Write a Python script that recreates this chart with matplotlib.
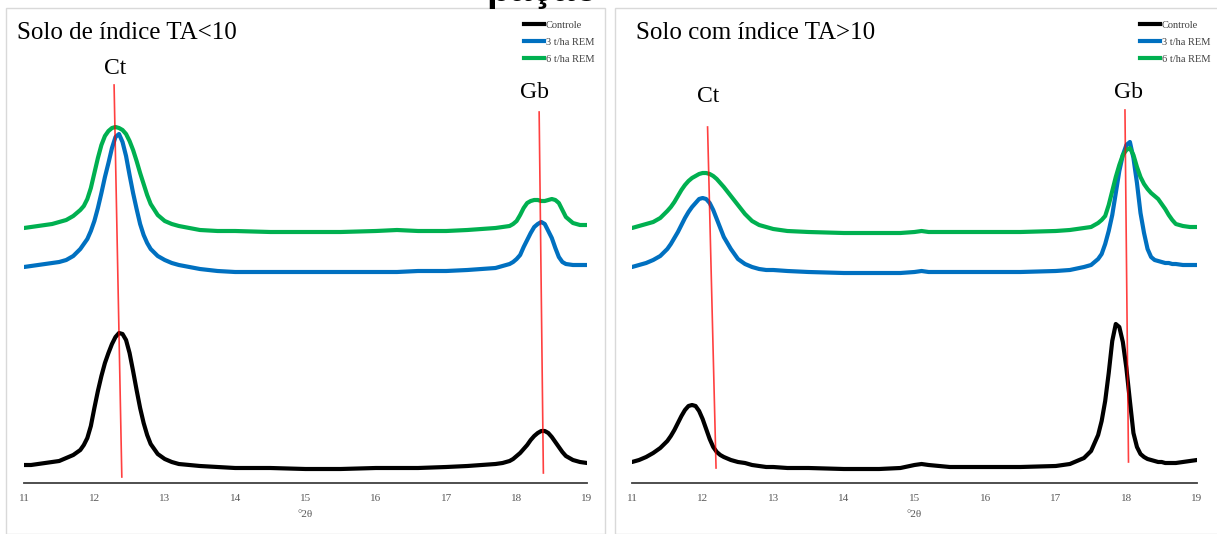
import matplotlib
matplotlib.use('Agg')
import matplotlib.pyplot as plt
from matplotlib.patches import Rectangle
from matplotlib.lines import Line2D

# ---- data (intensity in arbitrary units) ----
series_names = ['Controle', '3 t/ha REM', '6 t/ha REM']
series_colors = ['#000000', '#0070C0', '#00B050']

xL = [11.0, 11.1, 11.2, 11.3, 11.4, 11.5, 11.6, 11.7, 11.8, 11.85,
      11.9, 11.95, 12.0, 12.05, 12.1, 12.15, 12.2, 12.25, 12.3, 12.35,
      12.4, 12.45, 12.5, 12.55, 12.6, 12.65, 12.7, 12.75, 12.8, 12.9,
      13.0, 13.1, 13.2, 13.35, 13.5, 13.75, 14.0, 14.5, 15.0, 15.5,
      16.0, 16.3, 16.6, 17.0, 17.3, 17.5, 17.7, 17.8, 17.9, 17.95,
      18.0, 18.05, 18.1, 18.15, 18.2, 18.25, 18.3, 18.35, 18.4, 18.45,
      18.5, 18.55, 18.6, 18.65, 18.7, 18.8, 18.9, 19.0]
controle_L = [18, 18, 19, 20, 21, 22, 25, 28, 33, 38,
              45, 57, 75, 92, 107, 120, 130, 139, 146, 150,
              149, 143, 130, 112, 93, 75, 60, 48, 39, 29,
              24, 21, 19, 18, 17, 16, 15, 15, 14, 14,
              15, 15, 15, 16, 17, 18, 19, 20, 22, 24,
              27, 30, 34, 38, 43, 47, 50, 52, 52, 50,
              46, 41, 36, 31, 27, 23, 21, 20]
rem3_L = [216, 217, 218, 219, 220, 221, 223, 227, 234, 239,
          244, 252, 262, 275, 290, 306, 320, 335, 346, 349,
          341, 327, 308, 290, 274, 259, 248, 240, 234, 227,
          223, 220, 218, 216, 214, 212, 211, 211, 211, 211,
          211, 211, 212, 212, 213, 214, 215, 217, 219, 221,
          224, 228, 236, 243, 250, 256, 259, 261, 259, 252,
          245, 235, 226, 221, 219, 218, 218, 218]
rem6_L = [255, 256, 257, 258, 259, 261, 263, 267, 273, 277,
          284, 295, 310, 325, 338, 347, 352, 355, 356, 355,
          353, 349, 342, 333, 322, 310, 299, 288, 279, 268,
          262, 259, 257, 255, 253, 252, 252, 251, 251, 251,
          252, 253, 252, 252, 253, 254, 255, 256, 257, 259,
          262, 268, 275, 280, 282, 283, 283, 282, 282, 283,
          284, 283, 280, 273, 266, 260, 258, 258]

xR = [11.0, 11.1, 11.2, 11.3, 11.4, 11.5, 11.55, 11.6, 11.65, 11.7,
      11.75, 11.8, 11.85, 11.9, 11.95, 12.0, 12.05, 12.1, 12.15, 12.2,
      12.25, 12.3, 12.4, 12.5, 12.6, 12.7, 12.8, 12.9, 13.0, 13.2,
      13.5, 14.0, 14.5, 14.8, 15.0, 15.1, 15.2, 15.5, 16.0, 16.5,
      17.0, 17.2, 17.4, 17.5, 17.6, 17.65, 17.7, 17.75, 17.8, 17.85,
      17.9, 17.95, 18.0, 18.05, 18.1, 18.15, 18.2, 18.25, 18.3, 18.35,
      18.4, 18.45, 18.5, 18.55, 18.6, 18.65, 18.7, 18.8, 18.9, 19.0]
controle_R = [21, 23, 26, 30, 35, 42, 47, 53, 60, 67,
              73, 77, 78, 77, 72, 64, 54, 44, 36, 31,
              28, 26, 23, 21, 20, 18, 17, 16, 16, 15,
              15, 14, 14, 15, 18, 19, 18, 16, 16, 16,
              17, 19, 25, 32, 48, 62, 82, 110, 142, 159,
              156, 141, 115, 82, 50, 36, 29, 26, 24, 23,
              22, 21, 21, 20, 20, 20, 20, 21, 22, 23]
rem3_R = [216, 218, 220, 223, 227, 234, 239, 245, 251, 258,
          265, 271, 276, 280, 284, 285, 284, 280, 273, 264,
          255, 246, 234, 224, 219, 216, 214, 213, 213, 212,
          211, 210, 210, 210, 211, 212, 211, 211, 211, 211,
          212, 213, 216, 218, 224, 229, 239, 252, 268, 290,
          312, 328, 338, 341, 325, 300, 270, 250, 234, 226,
          223, 222, 221, 220, 220, 219, 219, 218, 218, 218]
rem6_R = [255, 257, 259, 261, 265, 272, 276, 281, 287, 293,
          298, 302, 305, 307, 309, 310, 310, 309, 307, 304,
          300, 296, 287, 278, 269, 262, 258, 256, 254, 252,
          251, 250, 250, 250, 251, 252, 251, 251, 251, 251,
          252, 253, 255, 256, 260, 263, 267, 278, 292, 306,
          318, 328, 333, 335, 328, 316, 306, 299, 294, 290,
          287, 284, 279, 274, 268, 263, 259, 257, 256, 256]

# red reference lines (x0, x1, y0, y1) and peak labels (x, y)
ct_line_L = [12.28, 12.39, 398, 6]
gb_line_L = [18.32, 18.38, 371, 10]
ct_line_R = [12.07, 12.19, 356, 15]
gb_line_R = [17.98, 18.03, 373, 21]
ct_label_L = [12.29, 415]
gb_label_L = [18.26, 391]
ct_label_R = [12.08, 386]
gb_label_R = [18.03, 391]

xticks = list(range(11, 20))

plt.rcParams['font.family'] = ['Liberation Serif', 'DejaVu Serif']

W, H = 1217, 534
fig = plt.figure(figsize=(W / 100, H / 100), dpi=100)

# panel frames (spreadsheet look)
fig.add_artist(Rectangle((6 / W, 0), (605 - 6) / W, (H - 8) / H, transform=fig.transFigure,
                         fill=False, ec='#d9d9d9', lw=1))
fig.add_artist(Rectangle((615 / W, 0), (W - 615 + 5) / W, (H - 8) / H, transform=fig.transFigure,
                         fill=False, ec='#d9d9d9', lw=1))

# cut-off heading at the very top
fig.text(599 / W, 1 - 1 / H, 'pação', ha='right', va='baseline', fontsize=28,
         fontweight='bold', family=['Liberation Sans', 'DejaVu Sans'])


def draw_panel(left, width, x, ys, title, title_x, ct_line, gb_line, ct_lbl, gb_lbl, leg_x):
    ax = fig.add_axes([left / W, (H - 483) / H, width / W, (483 - 8) / H])
    ax.patch.set_alpha(0)
    for y, c, n in zip(ys, series_colors, series_names):
        ax.plot(x, y, color=c, lw=3, label=n, solid_joinstyle='round', solid_capstyle='round')
    for ln in (ct_line, gb_line):
        ax.plot(ln[:2], ln[2:], color='red', lw=1.2, alpha=0.75, zorder=5)
    ax.text(ct_lbl[0], ct_lbl[1], 'Ct', ha='center', va='center', fontsize=17)
    ax.text(gb_lbl[0], gb_lbl[1], 'Gb', ha='center', va='center', fontsize=17)
    ax.set_xlim(11, 19)
    ax.set_ylim(0, 475)
    ax.set_yticks([])
    ax.set_xticks(xticks)
    ax.tick_params(axis='x', length=0, pad=8, labelsize=8, labelcolor='#595959')
    for s in ('left', 'right', 'top'):
        ax.spines[s].set_visible(False)
    ax.spines['bottom'].set_color('#404040')
    ax.spines['bottom'].set_linewidth(1.3)
    ax.set_xlabel('°2θ', fontsize=8, color='#595959', labelpad=5)
    fig.text(title_x / W, 1 - 33 / H, title, ha='left', va='center', fontsize=18)
    handles = [Line2D([], [], color=c, lw=3) for c in series_colors]
    ax.legend(handles, series_names, loc='upper left', bbox_to_anchor=(leg_x / W, 1 - 20.5 / H),
              bbox_transform=fig.transFigure, frameon=False, fontsize=7.5, handlelength=1.9,
              handletextpad=0.2, labelspacing=0.75, borderpad=0, borderaxespad=0,
              labelcolor='#404040')
    return ax


draw_panel(24, 563, xL, [controle_L, rem3_L, rem6_L], 'Solo de índice TA<10', 17,
           ct_line_L, gb_line_L, ct_label_L, gb_label_L, 524)
draw_panel(632, 565, xR, [controle_R, rem3_R, rem6_R], 'Solo com índice TA>10', 636,
           ct_line_R, gb_line_R, ct_label_R, gb_label_R, 1140)

fig.savefig('out.png', dpi=100)
